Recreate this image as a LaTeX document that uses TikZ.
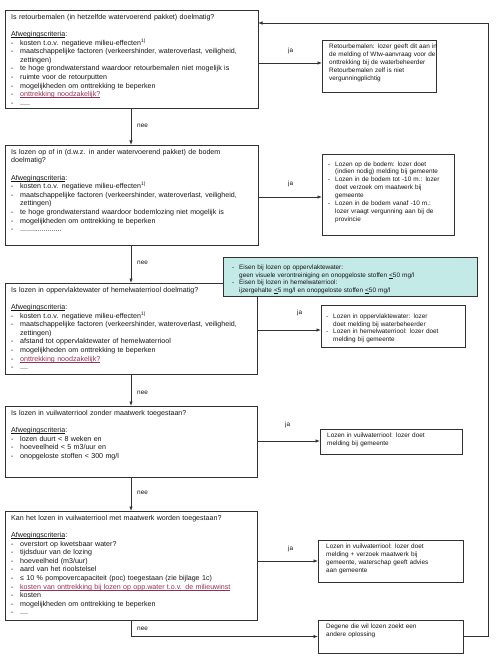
\documentclass[tikz,border=0pt]{standalone}
\usepackage{fontspec}
\setmainfont{Liberation Sans}
\usetikzlibrary{arrows.meta}
\definecolor{ln}{RGB}{50,50,50}
\definecolor{tx}{RGB}{20,20,20}
\definecolor{tealfill}{RGB}{196,234,232}
\definecolor{redu}{RGB}{150,45,85}
\newcommand\qf{\fontsize{7.1}{8.6}\selectfont}
\newcommand\rf{\fontsize{6.4}{7.9}\selectfont}
\newcommand\myul[1]{\setbox0\hbox{#1}\rlap{\rule[-1.1pt]{\wd0}{0.45pt}}\box0}
\newcommand\itm[1]{\par\hangindent=9pt\hangafter=1\noindent\makebox[9pt][l]{-}#1}
\newcommand\ritm[1]{\par\hangindent=7pt\hangafter=1\noindent\makebox[7pt][l]{-}#1}
\newcommand\afw{\par\vspace{8.6pt}\noindent\myul{Afwegingscriteria}:}
\newcommand\rd[1]{{\color{redu}\myul{#1}}}
\tikzset{
  box/.style={draw=ln, line width=0.7pt, anchor=north west, inner sep=0pt, outer sep=0pt},
  qt/.style={anchor=north west, inner sep=0pt, align=left, font=\qf, text=tx, text width=248pt},
  rt/.style={anchor=north west, inner sep=0pt, align=left, font=\rf, text=tx},
  arr/.style={draw=ln, line width=0.7pt, -{Latex[length=4.5pt,width=3.4pt]}},
  lab/.style={anchor=west, inner sep=0pt, font=\rf, text=tx}
}
\begin{document}
\begin{tikzpicture}[x=1pt,y=-1pt]
\useasboundingbox (0,0) rectangle (498,668);
% ---------- question boxes ----------
\node[box, minimum width=253pt, minimum height=98pt] (q1) at (5,10) {};
\node[qt] (q1t) at (11,14) {Is retourbemalen (in hetzelfde watervoerend pakket) doelmatig?
\afw
\itm{kosten t.o.v. negatieve milieu-effecten\textsuperscript{1)}}
\itm{maatschappelijke factoren (verkeershinder, wateroverlast, veiligheid,\newline zettingen)}
\itm{te hoge grondwaterstand waardoor retourbemalen niet mogelijk is}
\itm{ruimte voor de retourputten}
\itm{mogelijkheden om onttrekking te beperken}
\itm{\rd{onttrekking noodzakelijk?}}
\itm{.....}\par};

\node[box, minimum width=253pt, minimum height=100pt] (q2) at (5,145) {};
\node[qt] (q2t) at (11,149) {Is lozen op of in (d.w.z. in ander watervoerend pakket) de bodem\newline doelmatig?
\afw
\itm{kosten t.o.v. negatieve milieu-effecten\textsuperscript{1)}}
\itm{maatschappelijke factoren (verkeershinder, wateroverlast, veiligheid,\newline zettingen)}
\itm{te hoge grondwaterstand waardoor bodemlozing niet mogelijk is}
\itm{mogelijkheden om onttrekking te beperken}
\itm{.....................}\par};

\node[box, minimum width=252pt, minimum height=91pt] (q3) at (5,283) {};
\node[qt] (q3t) at (11,287) {Is lozen in oppervlaktewater of hemelwaterriool doelmatig?
\afw
\itm{kosten t.o.v. negatieve milieu-effecten\textsuperscript{1)}}
\itm{maatschappelijke factoren (verkeershinder, wateroverlast, veiligheid,\newline zettingen)}
\itm{afstand tot oppervlaktewater of hemelwaterriool}
\itm{mogelijkheden om onttrekking te beperken}
\itm{\rd{onttrekking noodzakelijk?}}
\itm{....}\par};

\node[box, minimum width=252pt, minimum height=71pt] (q4) at (5,406) {};
\node[qt] (q4t) at (11,410) {Is lozen in vuilwaterriool zonder maatwerk toegestaan?
\afw
\itm{lozen duurt < 8 weken en}
\itm{hoeveelheid < 5 m3/uur en}
\itm{onopgeloste stoffen < 300 mg/l}\par};

\node[box, minimum width=252pt, minimum height=109pt] (q5) at (5,511) {};
\node[qt] (q5t) at (11,515) {Kan het lozen in vuilwaterriool met maatwerk worden toegestaan?
\afw
\itm{overstort op kwetsbaar water?}
\itm{tijdsduur van de lozing}
\itm{hoeveelheid (m3/uur)}
\itm{aard van het rioolstelsel}
\itm{≤ 10 \% pompovercapaciteit (poc) toegestaan (zie bijlage 1c)}
\itm{\rd{kosten van onttrekking bij lozen op opp.water t.o.v. de milieuwinst}}
\itm{kosten}
\itm{mogelijkheden om onttrekking te beperken}
\itm{....}\par};

% ---------- teal box ----------
\node[box, fill=tealfill, minimum width=254pt, minimum height=39pt] (tb) at (223,257) {};
\node[rt, text width=244pt] (tbt) at (232,261) {\ritm{Eisen bij lozen op oppervlaktewater:\newline geen visuele verontreiniging en onopgeloste stoffen \myul{<} 50 mg/l}
\ritm{Eisen bij lozen in hemelwaterriool:\newline ijzergehalte \myul{<} 5 mg/l en onopgeloste stoffen \myul{<} 50 mg/l}\par};

% ---------- result boxes ----------
\node[box, minimum width=114pt, minimum height=52pt] (r1) at (322,40) {};
\node[rt, text width=110pt] (r1t) at (329,44) {Retourbemalen: lozer geeft dit aan in\newline de melding of Wtw-aanvraag voor de\newline onttrekking bij de waterbeheerder\newline Retourbemalen zelf is niet\newline vergunningplichtig\par};

\node[box, minimum width=132pt, minimum height=81pt] (r2) at (322,154) {};
\node[rt, text width=128pt] (r2t) at (328,158) {\ritm{Lozen op de bodem: lozer doet\newline (indien nodig) melding bij gemeente}
\ritm{Lozen in de bodem tot -10 m.: lozer\newline doet verzoek om maatwerk bij\newline gemeente}
\ritm{Lozen in de bodem vanaf -10 m.:\newline lozer vraagt vergunning aan bij de\newline provincie}\par};

\node[box, minimum width=144pt, minimum height=42pt] (r3) at (321,305) {};
\node[rt, text width=138pt] (r3t) at (326,310) {\ritm{Lozen in oppervlaktewater: lozer\newline doet melding bij waterbeheerder}
\ritm{Lozen in hemelwaterriool: lozer doet\newline melding bij gemeente}\par};

\node[box, minimum width=142pt, minimum height=25pt] (r4) at (320,429) {};
\node[rt, text width=136pt] (r4t) at (327,433) {Lozen in vuilwaterriool: lozer doet\newline melding bij gemeente\par};

\node[box, minimum width=145pt, minimum height=42pt] (r5) at (318,540) {};
\node[rt, text width=138pt] (r5t) at (326,544) {Lozen in vuilwaterriool: lozer doet\newline melding + verzoek maatwerk bij\newline gemeente, waterschap geeft advies\newline aan gemeente\par};

\node[box, minimum width=145pt, minimum height=33pt] (fb) at (318,620) {};
\node[rt, text width=138pt] (fbt) at (326,624) {Degene die wil lozen zoekt een\newline andere oplossing\par};

% ---------- connectors: ja ----------
\draw[arr] (q1.east |- 0,63) -- (r1.west |- 0,63);
\draw[arr] (q2.east |- 0,197) -- (r2.west |- 0,197);
\draw[arr] (q3.east |- 0,330) -- (r3.west |- 0,330);
\draw[arr] (q4.east |- 0,441) -- (r4.west |- 0,441);
\draw[arr] (q5.east |- 0,561) -- (r5.west |- 0,561);
\node[lab] (j1) at (288,51) {ja};
\node[lab] (j2) at (288,184) {ja};
\node[lab] (j3) at (297,313) {ja};
\node[lab] (j4) at (285,425) {ja};
\node[lab] (j5) at (288,549) {ja};

% ---------- connectors: nee ----------
\draw[arr] (q1.south -| 131,0) -- (q2.north -| 131,0);
\draw[arr] (q2.south -| 131,0) -- (q3.north -| 131,0);
\draw[arr] (q3.south -| 131,0) -- (q4.north -| 131,0);
\draw[arr] (q4.south -| 131,0) -- (q5.north -| 131,0);
\draw[arr] (q5.south -| 131,0) |- (fb.west);
\node[lab] (n1) at (137,126) {nee};
\node[lab] (n2) at (137,263) {nee};
\node[lab] (n3) at (137,393) {nee};
\node[lab] (n4) at (137,493) {nee};
\node[lab] (n5) at (137,629) {nee};

% ---------- return loop ----------
\coordinate (rt) at (488,23);
\draw[arr] (fb.east) -| (rt) -- (q1.east |- rt);
\end{tikzpicture}
\end{document}
